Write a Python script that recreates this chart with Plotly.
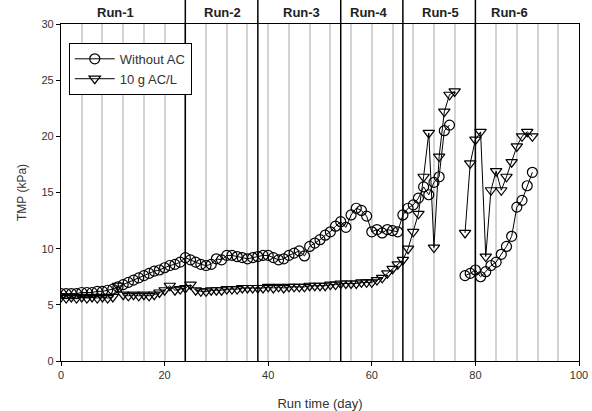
import plotly.graph_objects as go

# ---- data ----
days_without = list(range(0, 76)) + [None] + list(range(78, 92))
tmp_without = [6.0, 6.0, 6.0, 6.0, 6.1, 6.1, 6.1, 6.2, 6.2, 6.3,
               6.4, 6.6, 6.8, 7.0, 7.2, 7.4, 7.6, 7.8, 8.0, 8.1,
               8.3, 8.5, 8.6, 8.8, 9.2, 9.0, 8.8, 8.6, 8.5, 8.6,
               9.1, 9.0, 9.4, 9.4, 9.3, 9.2, 9.1, 9.2, 9.3, 9.4,
               9.4, 9.2, 9.0, 9.1, 9.4, 9.6, 9.8, 9.35, 10.2, 10.5,
               10.8, 11.2, 11.5, 12.0, 12.4, 11.9, 13.0, 13.6, 13.4, 12.9,
               11.5, 11.7, 11.4, 11.7, 11.6, 11.5, 13.0, 13.6, 13.9, 14.5,
               15.5, 14.8, 15.9, 16.4, 20.5, 21.0,
               None,
               7.6, 7.8, 8.1, 7.5, 7.95, 8.5, 8.8, 9.5, 10.2, 11.1,
               13.7, 14.3, 15.6, 16.8]

days_ac = list(range(0, 77)) + [None] + list(range(78, 92))
tmp_ac = [5.7, 5.6, 5.7, 5.6, 5.7, 5.6, 5.7, 5.6, 5.7, 5.6,
          5.7, 6.7, 5.9, 5.8, 5.9, 5.8, 5.9, 5.8, 5.9, 6.1,
          6.3, 6.7, 6.3, 6.4, 6.5, 6.8, 6.3, 6.2, 6.2, 6.3,
          6.3, 6.3, 6.4, 6.4, 6.4, 6.5, 6.5, 6.5, 6.5, 6.5,
          6.6, 6.5, 6.6, 6.5, 6.6, 6.6, 6.6, 6.6, 6.7, 6.7,
          6.7, 6.7, 6.8, 6.8, 6.9, 6.9, 6.9, 6.9, 7.0, 7.0,
          7.0, 7.2, 7.4, 7.8, 8.2, 8.6, 9.0, 10.0, 11.5, 13.1,
          16.4, 20.3, 10.1, 18.2, 22.2, 23.7, 24.0,
          None,
          11.4, 17.6, 19.7, 20.4, 9.3, 15.2, 16.9, 15.2, 16.4, 17.7,
          19.1, 20.0, 20.4, 20.0]

run_bounds = [24, 38, 54, 66, 80]
run_labels = ["Run-1", "Run-2", "Run-3", "Run-4", "Run-5", "Run-6"]
run_label_x = [10.6, 31.1, 46.5, 59.5, 73.2, 86.5]

x_ticks = [0, 20, 40, 60, 80, 100]
y_ticks = [0, 5, 10, 15, 20, 25, 30]

fig = go.Figure()

fig.add_trace(go.Scatter(
    x=days_without, y=tmp_without, name="Without AC",
    mode="lines+markers", connectgaps=False,
    line=dict(color="black", width=1),
    marker=dict(symbol="circle-open", size=10, color="black",
                line=dict(width=1.2, color="black")),
))
fig.add_trace(go.Scatter(
    x=days_ac, y=tmp_ac, name="10 g AC/L",
    mode="lines+markers", connectgaps=False,
    line=dict(color="black", width=1),
    marker=dict(symbol="triangle-down-open", size=10, color="black",
                line=dict(width=1.2, color="black")),
))

shapes = []
for b in run_bounds:
    shapes.append(dict(type="line", xref="x", yref="paper", x0=b, x1=b,
                       y0=0, y1=361 / 337, line=dict(color="black", width=1.5),
                       layer="above"))

annotations = []
for lab, lx in zip(run_labels, run_label_x):
    annotations.append(dict(text="<b>" + lab + "</b>", x=lx, xref="x",
                            y=(361 - 12) / 337, yref="paper", showarrow=False,
                            font=dict(size=13, color="#222"),
                            xanchor="center", yanchor="middle"))

fig.update_layout(
    width=592, height=411,
    margin=dict(l=61, r=13, t=24, b=50, autoexpand=False),
    plot_bgcolor="white", paper_bgcolor="white",
    font=dict(family="Liberation Sans, Arial, sans-serif", size=11, color="#333"),
    showlegend=True,
    legend=dict(x=0.015, y=0.944, xanchor="left", yanchor="top",
                bordercolor="black", borderwidth=1, bgcolor="white",
                font=dict(size=13, color="#333"), tracegroupgap=0,
                itemwidth=40),
    shapes=shapes,
    annotations=annotations,
)

fig.update_xaxes(
    range=[0, 100], tickvals=x_ticks, ticks="outside", ticklen=4,
    tickcolor="black", showline=True, linecolor="black", linewidth=1.2,
    mirror=True, showgrid=True, gridcolor="#d4d4d4", gridwidth=1.5,
    minor=dict(dtick=4, tick0=0, showgrid=True, gridcolor="#d4d4d4", gridwidth=1.5),
    zeroline=False, automargin=False,
    title=dict(text="Run time (day)", font=dict(size=13, color="#333"), standoff=20),
)
fig.update_yaxes(
    range=[0, 30], tickvals=y_ticks, ticks="outside", ticklen=4,
    tickcolor="black", showline=True, linecolor="black", linewidth=1.2,
    mirror=True, showgrid=False, zeroline=False, automargin=False,
    title=dict(text="TMP (kPa)", font=dict(size=12, color="#333"), standoff=12),
)

fig.write_html("out.html")
